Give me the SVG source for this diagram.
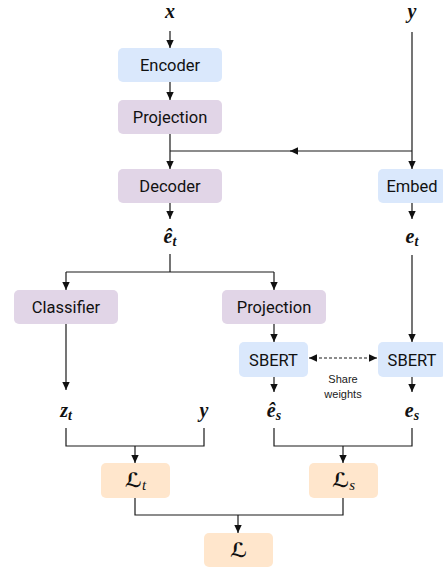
<svg xmlns="http://www.w3.org/2000/svg" width="443" height="568" viewBox="0 0 443 568">
<style>
.blue{fill:#dae8fc}
.purple{fill:#e1d5e7}
.orange{fill:#ffe6cc}
.lbl{font-family:Roboto,"Liberation Sans",sans-serif;font-size:16.5px;fill:#111;text-anchor:middle}
.small{font-family:"Liberation Sans",Arial,sans-serif;font-size:11px;fill:#1a1a1a;text-anchor:middle}
.math{font-family:"Liberation Serif","DejaVu Serif",serif;font-size:20px;font-weight:bold;font-style:italic;fill:#111;text-anchor:middle}
.cal{font-family:"DejaVu Serif","DejaVu Sans",serif;font-size:20px;font-weight:bold;font-style:italic;fill:#111;text-anchor:middle}
.sub{font-size:14px}
.csub{font-family:"Liberation Serif",serif;font-size:15px;font-weight:normal;font-style:italic}
.ln{fill:none;stroke:#1a1a1a;stroke-width:1.2}
.arr{marker-end:url(#ah)}
.dash{stroke-dasharray:3,2;marker-start:url(#ahs);marker-end:url(#ah)}
</style>
<defs>
<marker id="ah" markerUnits="userSpaceOnUse" markerWidth="9" markerHeight="9" refX="8" refY="4.5" orient="auto">
<path d="M0,0.8 L8,4.5 L0,8.2 z" fill="#111"/>
</marker>
<marker id="ahs" markerUnits="userSpaceOnUse" markerWidth="9" markerHeight="9" refX="0" refY="4.5" orient="auto">
<path d="M8,0.8 L0,4.5 L8,8.2 z" fill="#111"/>
</marker>
</defs>

<g id="connectors">
<path class="ln arr" d="M170,31 V48"/>
<path class="ln arr" d="M170,82 V100"/>
<path class="ln arr" d="M170,134 V169"/>
<path class="ln arr" d="M412,151 H290"/>
<path class="ln" d="M292,151 H170"/>
<path class="ln arr" d="M412,32 V169"/>
<path class="ln arr" d="M170,203 V219"/>
<path class="ln arr" d="M412,203 V219"/>
<path class="ln" d="M170,254 V272 M66,272 H274"/>
<path class="ln arr" d="M66,272 V290"/>
<path class="ln arr" d="M274,272 V290"/>
<path class="ln arr" d="M412,255 V342"/>
<path class="ln arr" d="M66,324 V390"/>
<path class="ln arr" d="M274,324 V342"/>
<path class="ln arr" d="M274,377 V392"/>
<path class="ln arr" d="M412,377 V392"/>
<path class="ln dash" d="M309,358 H377"/>
<path class="ln" d="M66,428 V446 H204 V428 M274,428 V446 H412 V428"/>
<path class="ln arr" d="M135,446 V463"/>
<path class="ln arr" d="M343,446 V463"/>
<path class="ln" d="M135,498 V515 H343 V498"/>
<path class="ln arr" d="M238,515 V533"/>
</g>

<g id="x"><text class="math" x="170" y="18">x</text></g>
<g id="y-top"><text class="math" x="412" y="18">y</text></g>
<g id="encoder"><rect class="blue" x="118" y="48" width="104" height="34" rx="5"/><text class="lbl" x="170" y="71">Encoder</text></g>
<g id="projection1"><rect class="purple" x="118" y="100" width="104" height="34" rx="5"/><text class="lbl" x="170" y="123">Projection</text></g>
<g id="decoder"><rect class="purple" x="118" y="169" width="104" height="34" rx="5"/><text class="lbl" x="170" y="192">Decoder</text></g>
<g id="embed"><rect class="blue" x="378" y="169" width="68" height="34" rx="5"/><text class="lbl" x="412" y="192">Embed</text></g>
<g id="e-hat-t"><text class="math" x="170" y="243">ê<tspan class="sub" dy="3">t</tspan></text></g>
<g id="e-t"><text class="math" x="412" y="243">e<tspan class="sub" dy="3">t</tspan></text></g>
<g id="classifier"><rect class="purple" x="14" y="290" width="104" height="34" rx="5"/><text class="lbl" x="66" y="313">Classifier</text></g>
<g id="projection2"><rect class="purple" x="222" y="290" width="104" height="34" rx="5"/><text class="lbl" x="274" y="313">Projection</text></g>
<g id="sbert1"><rect class="blue" x="239" y="342" width="69" height="35" rx="5"/><text class="lbl" x="273.5" y="365.5">SBERT</text></g>
<g id="sbert2"><rect class="blue" x="378" y="342" width="68" height="35" rx="5"/><text class="lbl" x="412" y="365.5">SBERT</text></g>
<g id="share"><text class="small" x="343" y="383">Share</text><text class="small" x="343" y="398">weights</text></g>
<g id="z-t"><text class="math" x="66" y="417">z<tspan class="sub" dy="3">t</tspan></text></g>
<g id="y-mid"><text class="math" x="204" y="417">y</text></g>
<g id="e-hat-s"><text class="math" x="274" y="417">ê<tspan class="sub" dy="3">s</tspan></text></g>
<g id="e-s"><text class="math" x="412" y="417">e<tspan class="sub" dy="3">s</tspan></text></g>
<g id="loss-t"><rect class="orange" x="101" y="463" width="69" height="35" rx="5"/><text class="cal" x="135.5" y="487">ℒ<tspan class="csub" dy="3">t</tspan></text></g>
<g id="loss-s"><rect class="orange" x="309" y="463" width="69" height="35" rx="5"/><text class="cal" x="343.5" y="487">ℒ<tspan class="csub" dy="3">s</tspan></text></g>
<g id="loss"><rect class="orange" x="204" y="533" width="69" height="34" rx="5"/><text class="cal" x="238.5" y="557">ℒ</text></g>
</svg>
